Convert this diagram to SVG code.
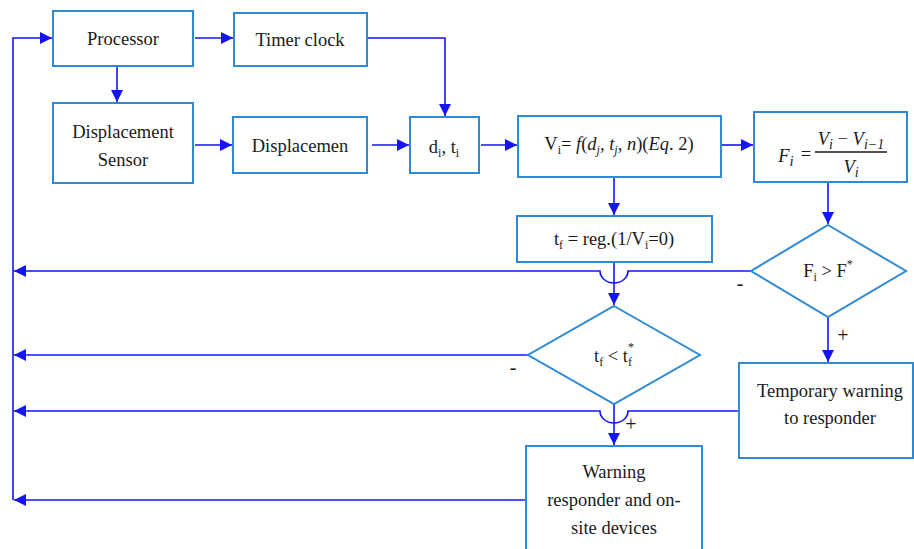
<svg xmlns="http://www.w3.org/2000/svg" width="914" height="549" viewBox="0 0 914 549" font-family="'Liberation Serif','Times New Roman',serif">
<style>
.box{fill:#fff;stroke:#2f8ad3;stroke-width:2}
.c{fill:none;stroke:#1414f5;stroke-width:1.6}
text{font-family:"Liberation Serif","Times New Roman",serif;font-size:18.5px;fill:#1a1a1a;text-anchor:middle}
.m{font-style:italic}
.lbl{font-size:20px}
</style>
<defs>
<marker id="ah" viewBox="0 0 12 12" refX="12" refY="6" markerWidth="12" markerHeight="12" markerUnits="userSpaceOnUse" orient="auto">
<path d="M0,0 L12,6 L0,12 z" fill="#1414f5"/>
</marker>
</defs>
<rect width="914" height="549" fill="#fff"/>
<g id="connectors">
<path class="c" d="M195,38 H233" marker-end="url(#ah)"/>
<path class="c" d="M117,66 V102" marker-end="url(#ah)"/>
<path class="c" d="M195,145 H232" marker-end="url(#ah)"/>
<path class="c" d="M372,145 H409" marker-end="url(#ah)"/>
<path class="c" d="M367,38 H445 V116" marker-end="url(#ah)"/>
<path class="c" d="M481,145 H517" marker-end="url(#ah)"/>
<path class="c" d="M721,145 H753" marker-end="url(#ah)"/>
<path class="c" d="M614,177 V215" marker-end="url(#ah)"/>
<path class="c" d="M828,182 V224" marker-end="url(#ah)"/>
<path class="c" d="M614,262 V305" marker-end="url(#ah)"/>
<path class="c" d="M828,317 V362" marker-end="url(#ah)"/>
<path class="c" d="M614,404 V445" marker-end="url(#ah)"/>
<path class="c" d="M751,271 H628 A14,12 0 0 1 600,271 H14" marker-end="url(#ah)"/>
<path class="c" d="M528,355 H14" marker-end="url(#ah)"/>
<path class="c" d="M739,411 H628 A14,12 0 0 1 600,411 H14" marker-end="url(#ah)"/>
<path class="c" d="M526,500 H14" marker-end="url(#ah)"/>
<path class="c" d="M13,500 V38 H52" marker-end="url(#ah)"/>
<text class="lbl" x="740" y="290">-</text>
<text class="lbl" x="513" y="374">-</text>
<text class="lbl" x="843" y="342">+</text>
<text class="lbl" x="631" y="431">+</text>
</g>
<g id="processor">
<rect class="box" x="53" y="11" width="140" height="55"/>
<text x="123" y="45">Processor</text>
</g>
<g id="timer">
<rect class="box" x="234" y="13" width="133" height="53"/>
<text x="300" y="46">Timer clock</text>
</g>
<g id="sensor">
<rect class="box" x="53" y="103" width="140" height="80"/>
<text x="123" y="138">Displacement</text>
<text x="123" y="166">Sensor</text>
</g>
<g id="displacemen">
<rect class="box" x="233" y="117" width="134" height="56"/>
<text x="300" y="152">Displacemen</text>
</g>
<g id="dt">
<rect class="box" x="410" y="117" width="69" height="56"/>
<text x="444" y="153">d<tspan font-size="12" dy="4">i</tspan><tspan dy="-4">, t</tspan><tspan font-size="12" dy="4">i</tspan></text>
</g>
<g id="velocity">
<rect class="box" x="518" y="116" width="203" height="61"/>
<text x="619" y="150">V<tspan font-size="12" dy="4">i</tspan><tspan dy="-4">= </tspan><tspan class="m">f</tspan>(<tspan class="m">d</tspan><tspan class="m" font-size="12" dy="4">j</tspan><tspan dy="-4">, </tspan><tspan class="m">t</tspan><tspan class="m" font-size="12" dy="4">j</tspan><tspan dy="-4">, </tspan><tspan class="m">n</tspan>)(<tspan class="m">Eq</tspan>. 2)</text>
</g>
<g id="fratio">
<rect class="box" x="754" y="112" width="153" height="70"/>
<text class="m" x="786" y="162" font-size="23">F<tspan font-size="15" dy="4">i</tspan></text>
<text x="806" y="160" font-size="23">=</text>
<text class="m" x="851" y="145" font-size="22">V<tspan font-size="14" dy="4">i</tspan><tspan dy="-4" font-style="normal"> − </tspan>V<tspan font-size="14" dy="4">i−1</tspan></text>
<line x1="815" y1="152" x2="887" y2="152" stroke="#1a1a1a" stroke-width="1.6"/>
<text class="m" x="851" y="173" font-size="22">V<tspan font-size="14" dy="4">i</tspan></text>
</g>
<g id="tf">
<rect class="box" x="517" y="216" width="195" height="46"/>
<text x="614" y="245">t<tspan font-size="12" dy="4">f</tspan><tspan dy="-4"> = reg.(1/V</tspan><tspan font-size="12" dy="4">i</tspan><tspan dy="-4">=0)</tspan></text>
</g>
<g id="fcheck">
<polygon class="box" points="828,225 906,271 828,317 751,271"/>
<text x="828" y="277">F<tspan font-size="12" dy="4">i</tspan><tspan dy="-4"> &gt; F</tspan><tspan font-size="12" dy="-9">*</tspan></text>
</g>
<g id="tfcheck">
<polygon class="box" points="614,306 700,355 614,404 528,355"/>
<text x="614" y="362">t<tspan font-size="12" dy="4">f</tspan><tspan dy="-4"> &lt; t</tspan><tspan font-size="12" dy="4">f</tspan><tspan font-size="12" dx="-4" dy="-15">*</tspan></text>
</g>
<g id="temporary">
<rect class="box" x="739" y="363" width="174" height="95"/>
<text x="830" y="397">Temporary warning</text>
<text x="830" y="424">to responder</text>
</g>
<g id="warning">
<rect class="box" x="526" y="446" width="176" height="110"/>
<text x="614" y="478">Warning</text>
<text x="614" y="506">responder and on-</text>
<text x="614" y="534">site devices</text>
</g>
</svg>
